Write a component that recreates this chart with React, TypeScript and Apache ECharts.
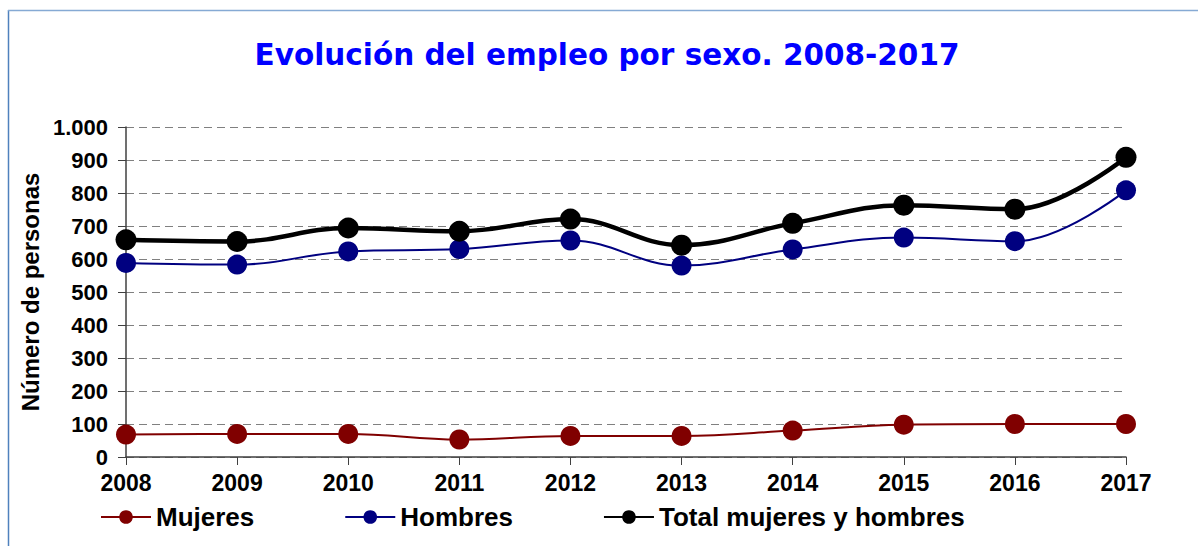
import React, { useEffect, useRef } from "react";
import * as echarts from "echarts";

const years = ["2008", "2009", "2010", "2011", "2012", "2013", "2014", "2015", "2016", "2017"];
const mujeres = [68, 70, 70, 53, 64, 64, 80, 98, 100, 100];
const hombres = [588, 583, 623, 630, 656, 580, 629, 665, 654, 808];
const total = [658, 653, 694, 684, 721, 642, 708, 763, 751, 908];
const seriesNames = ["Mujeres", "Hombres", "Total mujeres y hombres"];
const titleText = "Evolución del empleo por sexo. 2008-2017";
const yAxisTitle = "Número de personas";

const FONT = "'Liberation Sans', Arial, sans-serif";

export default function App() {
  const ref = useRef<HTMLDivElement>(null);
  useEffect(() => {
    if (!ref.current) return;
    const chart = echarts.init(ref.current, null, { renderer: "svg" });
    const mk = (name: string, data: number[], color: string, width: number, size: number) => ({
      name,
      type: "line",
      data,
      smooth: 0.4,
      symbol: "circle",
      symbolSize: size,
      showSymbol: true,
      lineStyle: { color, width },
      itemStyle: { color, borderWidth: 0 },
      emphasis: { disabled: true },
    });
    chart.setOption({
      animation: false,
      backgroundColor: "#ffffff",
      textStyle: { fontFamily: FONT },
      graphic: [
        {
          type: "line",
          shape: { x1: 8.5, y1: 10, x2: 8.5, y2: 546 },
          style: { stroke: "#4f81bd", lineWidth: 1.5 },
        },
        {
          type: "line",
          shape: { x1: 8, y1: 10.5, x2: 1198, y2: 10.5 },
          style: { stroke: "#86aad4", lineWidth: 1.5 },
        },
        {
          type: "text",
          style: {
            text: titleText,
            x: 607,
            y: 55,
            textAlign: "center",
            textVerticalAlign: "middle",
            fill: "#0000ff",
            font: "bold 29.5px 'DejaVu Sans', sans-serif",
          },
        },
      ],
      grid: { left: 126, right: 72, top: 127, bottom: 89, containLabel: false },
      legend: {
        left: 95,
        top: 499,
        itemWidth: 50,
        itemHeight: 17,
        itemGap: 90,
        data: seriesNames,
        textStyle: { fontFamily: FONT, fontWeight: "bold", fontSize: 26, color: "#000" },
      },
      xAxis: {
        type: "category",
        data: years,
        boundaryGap: false,
        axisLine: { lineStyle: { color: "#404040", width: 1.5 } },
        axisTick: { inside: false, length: 8, lineStyle: { color: "#404040", width: 1 } },
        axisLabel: { fontFamily: FONT, fontWeight: "bold", fontSize: 23, color: "#000", margin: 14 },
        splitLine: { show: false },
      },
      yAxis: {
        type: "value",
        min: 0,
        max: 1000,
        interval: 100,
        name: yAxisTitle,
        nameLocation: "middle",
        nameGap: 84,
        nameTextStyle: { fontFamily: FONT, fontWeight: "bold", fontSize: 24, color: "#000" },
        axisLine: { show: true, lineStyle: { color: "#404040", width: 1.5 } },
        axisTick: { show: true, inside: false, length: 8, lineStyle: { color: "#404040", width: 1 } },
        axisLabel: {
          fontFamily: FONT,
          fontWeight: "bold",
          fontSize: 22,
          color: "#000",
          margin: 18,
          formatter: (v: number) => (v >= 1000 ? "1.000" : String(v)),
        },
        splitLine: { show: true, lineStyle: { color: "#808080", type: [8, 5], width: 1 } },
      },
      series: [
        mk(seriesNames[0], mujeres, "#800000", 2, 20),
        mk(seriesNames[1], hombres, "#000080", 2, 20),
        mk(seriesNames[2], total, "#000000", 4.5, 21),
      ],
    });
    return () => chart.dispose();
  }, []);
  return (
    <div
      ref={ref}
      style={{ position: "fixed", left: 0, top: 0, width: 1198, height: 546 }}
    />
  );
}
